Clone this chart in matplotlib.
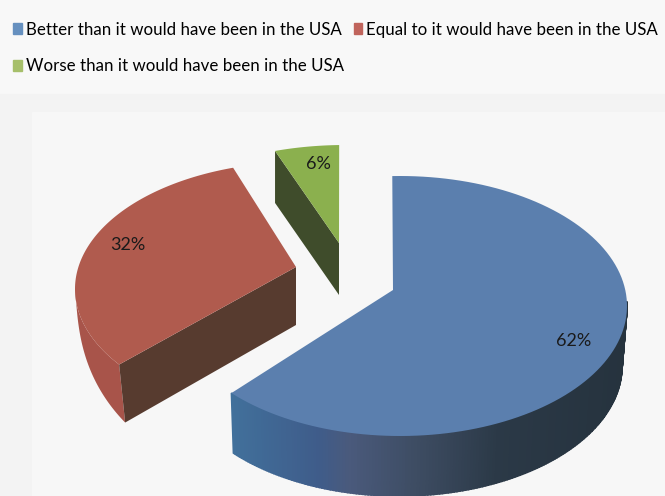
import numpy as np
import matplotlib
matplotlib.use('Agg')
import matplotlib.pyplot as plt
from matplotlib.patches import Patch, Rectangle
from matplotlib.colors import to_rgb

# data
categories = ['Better than it would have been in the USA',
              'Equal to it would have been in the USA',
              'Worse than it would have been in the USA']
shares = [62, 32, 6]

# geometry of each exploded slice, in picture pixels (the fake 3D of the original)
apex = [(393, 290), (296, 267), (339, 243)]
ellipse_c = [(400, 306), (300, 289), (345, 265)]
ellipse_r = [(227, 130), (225, 127), (225, 120)]
angle_shift = [1.4, 7.3, 1.0]
angle_squeeze = [1.03, 0.948, 0.77]
extrude = [(2, 60), (6, 58), (0, 52)]

top_colors = ['#5b7fae', '#b05b4e', '#8bb04e']
legend_colors = ['#6690bf', '#c0645c', '#a6bf6a']
label_pos = [(574, 341), (128, 245), (318, 164)]

plt.rcParams['font.family'] = ['Lato', 'DejaVu Sans']

fig = plt.figure(figsize=(6.65, 4.96), dpi=100, facecolor='#f8f8f8')
ax = fig.add_axes([0, 0, 1, 1])
ax.set_xlim(0, 665)
ax.set_ylim(496, 0)
ax.axis('off')

# backgrounds
ax.add_patch(Rectangle((0, 94), 665, 402, color='#f3f3f3', zorder=0))
ax.add_patch(Rectangle((32, 112), 633, 384, color='#f7f7f7', zorder=0))


def arc_points(i, t0, t1, n=120):
    # t0, t1 clockwise degrees from 12 o'clock, as the pie data gives them
    mid = (t0 + t1) / 2
    th = mid + angle_shift[i] + (np.linspace(t0, t1, n) - mid) * angle_squeeze[i]
    th = np.radians(th)
    x = ellipse_c[i][0] + ellipse_r[i][0] * np.sin(th)
    y = ellipse_c[i][1] - ellipse_r[i][1] * np.cos(th)
    return x, y


edges = np.concatenate([[0], np.cumsum(shares)]) / np.sum(shares) * 360

# blue rim, shaded left to right
gx = [232, 320, 350, 420, 500, 640]
gc = np.array([to_rgb(c) for c in ['#41709b', '#3f5c8a', '#4a5a7c', '#3d4c62', '#2b3947', '#25323d']])
x, y = arc_points(0, edges[0], edges[1], n=300)
dy = extrude[0][1]
dx = np.interp(x, [232, 626], [extrude[0][0], -5])
for k in range(len(x) - 1):
    if y[k] < 300:
        continue
    col = [np.interp(x[k], gx, gc[:, c]) for c in range(3)]
    ax.fill([x[k], x[k + 1], x[k + 1] + dx[k + 1], x[k] + dx[k]],
            [y[k], y[k + 1], y[k + 1] + dy, y[k] + dy],
            facecolor=col, edgecolor=col, lw=1.2, zorder=2)

# red rim, it fades out towards the far left, and the brown cut face
x, y = arc_points(1, edges[1], edges[2])
dx, dy = extrude[1]
fade = np.sqrt(np.clip((y - ellipse_c[1][1]) / (y[0] - ellipse_c[1][1]), 0, 1))
ax.fill(np.r_[x, (x + dx * fade)[::-1]], np.r_[y, (y + dy * fade)[::-1]], color='#a8544a', lw=0, zorder=2)
ax.fill([apex[1][0], x[0], x[0] + dx, apex[1][0]],
        [apex[1][1], y[0], y[0] + dy, apex[1][1] + dy], color='#573b2f', lw=0, zorder=3)

# green cut face
x, y = arc_points(2, edges[2], edges[3])
dx, dy = extrude[2]
ax.fill([apex[2][0], x[0], x[0] + dx, apex[2][0]],
        [apex[2][1], y[0], y[0] + dy, apex[2][1] + dy], color='#3f4c2b', lw=0, zorder=3)

# top faces
for i in range(3):
    x, y = arc_points(i, edges[i], edges[i + 1])
    ax.fill(np.r_[apex[i][0], x], np.r_[apex[i][1], y], color=top_colors[i], lw=0, zorder=4)
    ax.text(label_pos[i][0], label_pos[i][1], f'{shares[i]}%', fontsize=13, color='#1a1a1a',
            ha='center', va='center', zorder=5)

# legend, 2 columns filled column first so the rows read like the original
order = [0, 2, 1]
handles = [Patch(color=legend_colors[i], label=categories[i]) for i in order]
ax.legend(handles=handles, loc='upper left', bbox_to_anchor=(0.02, 0.956), ncol=2, frameon=False,
          fontsize=12.2, handlelength=0.5, handleheight=0.6, handletextpad=0.22,
          columnspacing=0.62, labelspacing=1.2, borderpad=0, borderaxespad=0)

fig.savefig('out.png', dpi=100)
